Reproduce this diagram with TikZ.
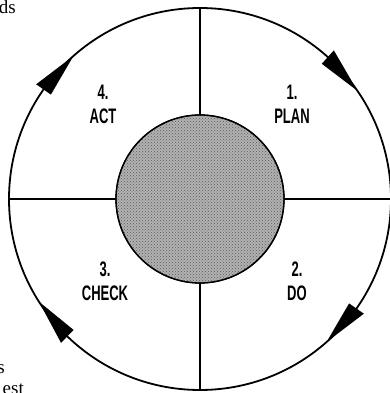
\documentclass[tikz,border=0pt]{standalone}
\usepackage{fontspec}
\setmainfont{Liberation Serif}
\newfontfamily\stagefont{Liberation Sans}
\usetikzlibrary{patterns}

\tikzset{
  ring/.style={line width=1.8pt},
  spoke/.style={line width=1.6pt},
  hub/.style={line width=1.3pt, fill=black!30},
  stage/.style={font=\stagefont\bfseries\fontsize{21}{24}\selectfont, align=center, xscale=0.62, inner sep=0pt},
  margintext/.style={font=\fontsize{19}{22}\selectfont, inner sep=0pt}
}

\begin{document}
\begin{tikzpicture}[x=1pt,y=1pt]
    \useasboundingbox (-200,-194) rectangle (190,199);
    \clip (-200,-194) rectangle (190,199);
    % outer ring and quadrants
    \draw[ring] (0,0) circle (191);
    \draw[spoke] (90:191) -- (270:191);
    \draw[spoke] (180:191) -- (0:191);
    \foreach \b/\t in {145/131.5, 48/34.5, -35/-48.5, 226/212.5}{
        \fill (\b:182) -- (\t:191) -- (\b:200) -- cycle;
    }
    \draw[hub] (0,0) circle (84);
    \fill[pattern=crosshatch dots, pattern color=black!65] (0,0) circle (84);
    \draw[line width=1.3pt] (0,0) circle (84);
    \node[stage] (plan) at (92,94.5) {1.\\PLAN};
    \node[stage] (do) at (97,-82) {2.\\DO};
    \node[stage] (check) at (-95,-82) {3.\\CHECK};
    \node[stage] (act) at (-97,94.5) {4.\\ACT};
    \node[margintext, anchor=base east] (ds) at (-184,185) {ds};
    \node[margintext, anchor=base east] (s) at (-195,-174) {s};
    \node[margintext, anchor=base east] (est) at (-176,-195) {est};
\end{tikzpicture}
\end{document}
